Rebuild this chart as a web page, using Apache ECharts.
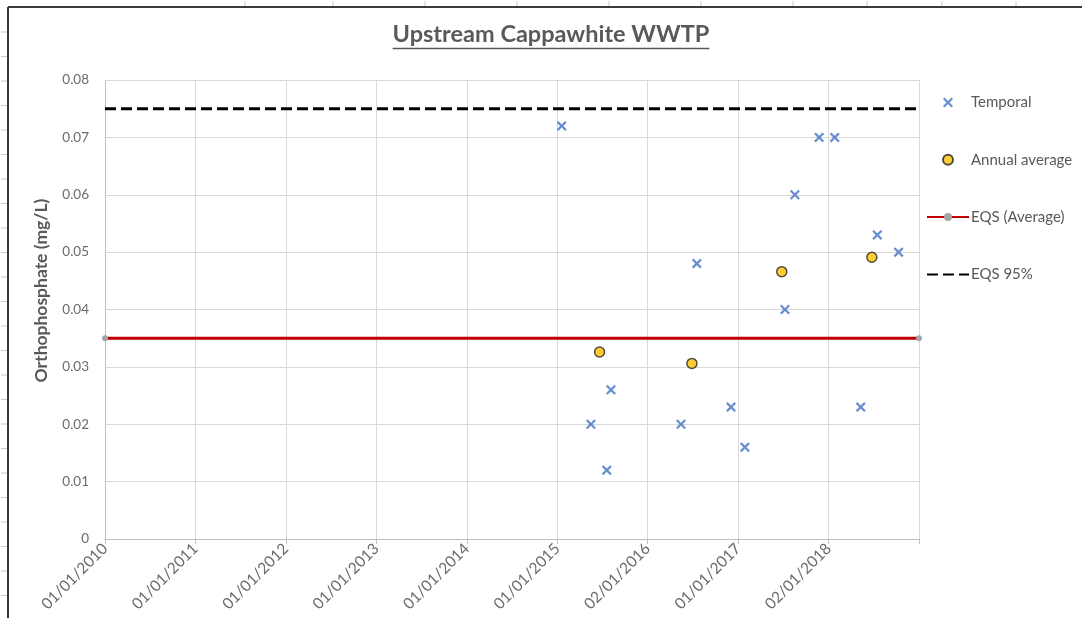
<!DOCTYPE html>
<html>
<head>
<meta charset="utf-8">
<style>
html,body{margin:0;padding:0;background:#fff;}
#chart{width:1082px;height:618px;}
</style>
<script src="https://cdn.jsdelivr.net/npm/echarts@6/dist/echarts.min.js"></script>
</head>
<body>
<div id="chart"></div>
<script>
// ---- data ----
const titleText = 'Upstream Cappawhite WWTP';
const yAxisTitle = 'Orthophosphate (mg/L)';
const seriesNames = ['Temporal', 'Annual average', 'EQS (Average)', 'EQS 95%'];

const temporalDates = ['2015-01-20','2015-05-18','2015-07-21','2015-08-07','2016-05-16','2016-07-19','2016-12-04','2017-01-29','2017-07-10','2017-08-19','2017-11-25','2018-01-27','2018-05-12','2018-07-18','2018-10-12'];
const temporalValues = [0.072,0.020,0.012,0.026,0.020,0.048,0.023,0.016,0.040,0.060,0.070,0.070,0.023,0.053,0.050];

const averageDates = ['2015-06-22','2016-06-29','2017-06-27','2018-06-26'];
const averageValues = [0.0326,0.0306,0.0466,0.0491];

const eqsAverage = 0.035;
const eqs95 = 0.075;

const xTickLabels = ['01/01/2010','01/01/2011','01/01/2012','01/01/2013','01/01/2014','01/01/2015','02/01/2016','01/01/2017','02/01/2018'];
const xStartDate = '2010-01-01';
const xTickDays = 365.38;
const xTickCount = 9;

const yMin = 0, yMax = 0.08, yStep = 0.01;

// ---- helpers ----
function dayOffset(s) {
  const p = s.split('-').map(Number);
  const b = xStartDate.split('-').map(Number);
  return (Date.UTC(p[0], p[1]-1, p[2]) - Date.UTC(b[0], b[1]-1, b[2])) / 86400000;
}
const xMax = xTickDays * xTickCount;
const FONT = 'Lato, "Open Sans", sans-serif';
const TITLE_SIZE = 23.5;

const crossPath = 'path://M0,1.6L1.6,0L5,3.4L8.4,0L10,1.6L6.6,5L10,8.4L8.4,10L5,6.6L1.6,10L0,8.4L3.4,5Z';

// measure title for underline
const mctx = document.createElement('canvas').getContext('2d');
mctx.font = 'bold ' + TITLE_SIZE + 'px Lato';
const titleW = mctx.measureText(titleText).width;
const titleCX = 551;

// spreadsheet frame and stubs
const frameGraphics = [
  {type:'line', shape:{x1:8,y1:7,x2:1082,y2:7}, style:{stroke:'#3a3a3a', lineWidth:2}, silent:true},
  {type:'line', shape:{x1:8,y1:7,x2:8,y2:618}, style:{stroke:'#3a3a3a', lineWidth:2}, silent:true},
  {type:'line', shape:{x1:titleCX - titleW/2, y1:48.5, x2:titleCX + titleW/2, y2:48.5}, style:{stroke:'#595959', lineWidth:1.5}, silent:true}
];
const topStubs = [245, 333, 425, 517, 609, 701, 793, 867, 942, 1016];
topStubs.forEach(function(x){ frameGraphics.push({type:'line', shape:{x1:x,y1:1,x2:x,y2:6}, style:{stroke:'#c8c8c8', lineWidth:1}, silent:true}); });
for (let k = 1; k <= 25; k++) {
  const y = 7.5 + 24.5 * k;
  frameGraphics.push({type:'line', shape:{x1:1,y1:y,x2:7,y2:y}, style:{stroke:'#c8c8c8', lineWidth:1}, silent:true});
}

const chart = echarts.init(document.getElementById('chart'), null, {renderer:'canvas'});
chart.setOption({
  animation: false,
  backgroundColor: '#ffffff',
  textStyle: {fontFamily: FONT},
  title: {
    text: titleText,
    left: titleCX, top: 22, padding: 0,
    textAlign: 'center',
    textStyle: {fontFamily: FONT, fontSize: TITLE_SIZE, fontWeight: 'bold', color: '#595959'}
  },
  graphic: frameGraphics,
  legend: {
    orient: 'vertical',
    left: 926, top: 95, padding: 0,
    itemWidth: 42, itemHeight: 10,
    itemGap: 42.3,
    data: [
      {name: seriesNames[0]},
      {name: seriesNames[1]},
      {name: seriesNames[2]},
      {name: seriesNames[3], itemStyle: {color: 'rgba(0,0,0,0)', borderWidth: 0, opacity: 0}}
    ],
    textStyle: {fontFamily: FONT, fontSize: 15, color: '#595959', padding: [0,0,0,-3]}
  },
  grid: {left: 105, right: 163, top: 80, bottom: 79, containLabel: false},
  xAxis: {
    type: 'value',
    min: 0, max: xMax, interval: xTickDays,
    axisLine: {show: true, lineStyle: {color: '#bfbfbf', width: 1}},
    axisTick: {show: true, length: 5, lineStyle: {color: '#bfbfbf'}},
    splitLine: {show: true, lineStyle: {color: '#d9d9d9', width: 1}},
    axisLabel: {
      rotate: 45, margin: 7, fontSize: 15.5, color: '#6b6b6b', fontFamily: FONT,
      formatter: function(v){ const i = Math.round(v / xTickDays); return xTickLabels[i] || ''; }
    }
  },
  yAxis: {
    type: 'value',
    min: yMin, max: yMax, interval: yStep,
    name: yAxisTitle,
    nameLocation: 'middle',
    nameGap: 55,
    nameTextStyle: {fontFamily: FONT, fontSize: 17.5, fontWeight: 'bold', color: '#595959', padding: [0,0,0,38]},
    axisLine: {show: true, lineStyle: {color: '#bfbfbf', width: 1}},
    axisTick: {show: false},
    splitLine: {show: true, lineStyle: {color: '#d9d9d9', width: 1}},
    axisLabel: {margin: 16, fontSize: 13.5, color: '#6b6b6b', fontFamily: FONT}
  },
  series: [
    {
      name: seriesNames[0], type: 'scatter',
      symbol: crossPath, symbolSize: 10,
      itemStyle: {color: '#4472C4'},
      z: 5,
      data: temporalDates.map(function(d, i){ return [dayOffset(d), temporalValues[i]]; })
    },
    {
      name: seriesNames[1], type: 'scatter',
      symbol: 'circle', symbolSize: 10,
      itemStyle: {color: '#FFC000', borderColor: '#262626', borderWidth: 1.5},
      z: 6,
      data: averageDates.map(function(d, i){ return [dayOffset(d), averageValues[i]]; })
    },
    {
      name: seriesNames[2], type: 'line',
      symbol: 'circle', symbolSize: 6, showSymbol: true,
      itemStyle: {color: '#a5a5a5'},
      lineStyle: {color: '#C00000', width: 3},
      z: 3,
      data: [[0, eqsAverage], [xMax, eqsAverage]]
    },
    {
      name: seriesNames[3], type: 'line',
      symbol: 'none',
      itemStyle: {color: '#000000'},
      lineStyle: {color: '#000000', width: 3, type: [11, 5]},
      z: 3,
      data: [[0, eqs95], [xMax, eqs95]]
    }
  ]
});
</script>
</body>
</html>
